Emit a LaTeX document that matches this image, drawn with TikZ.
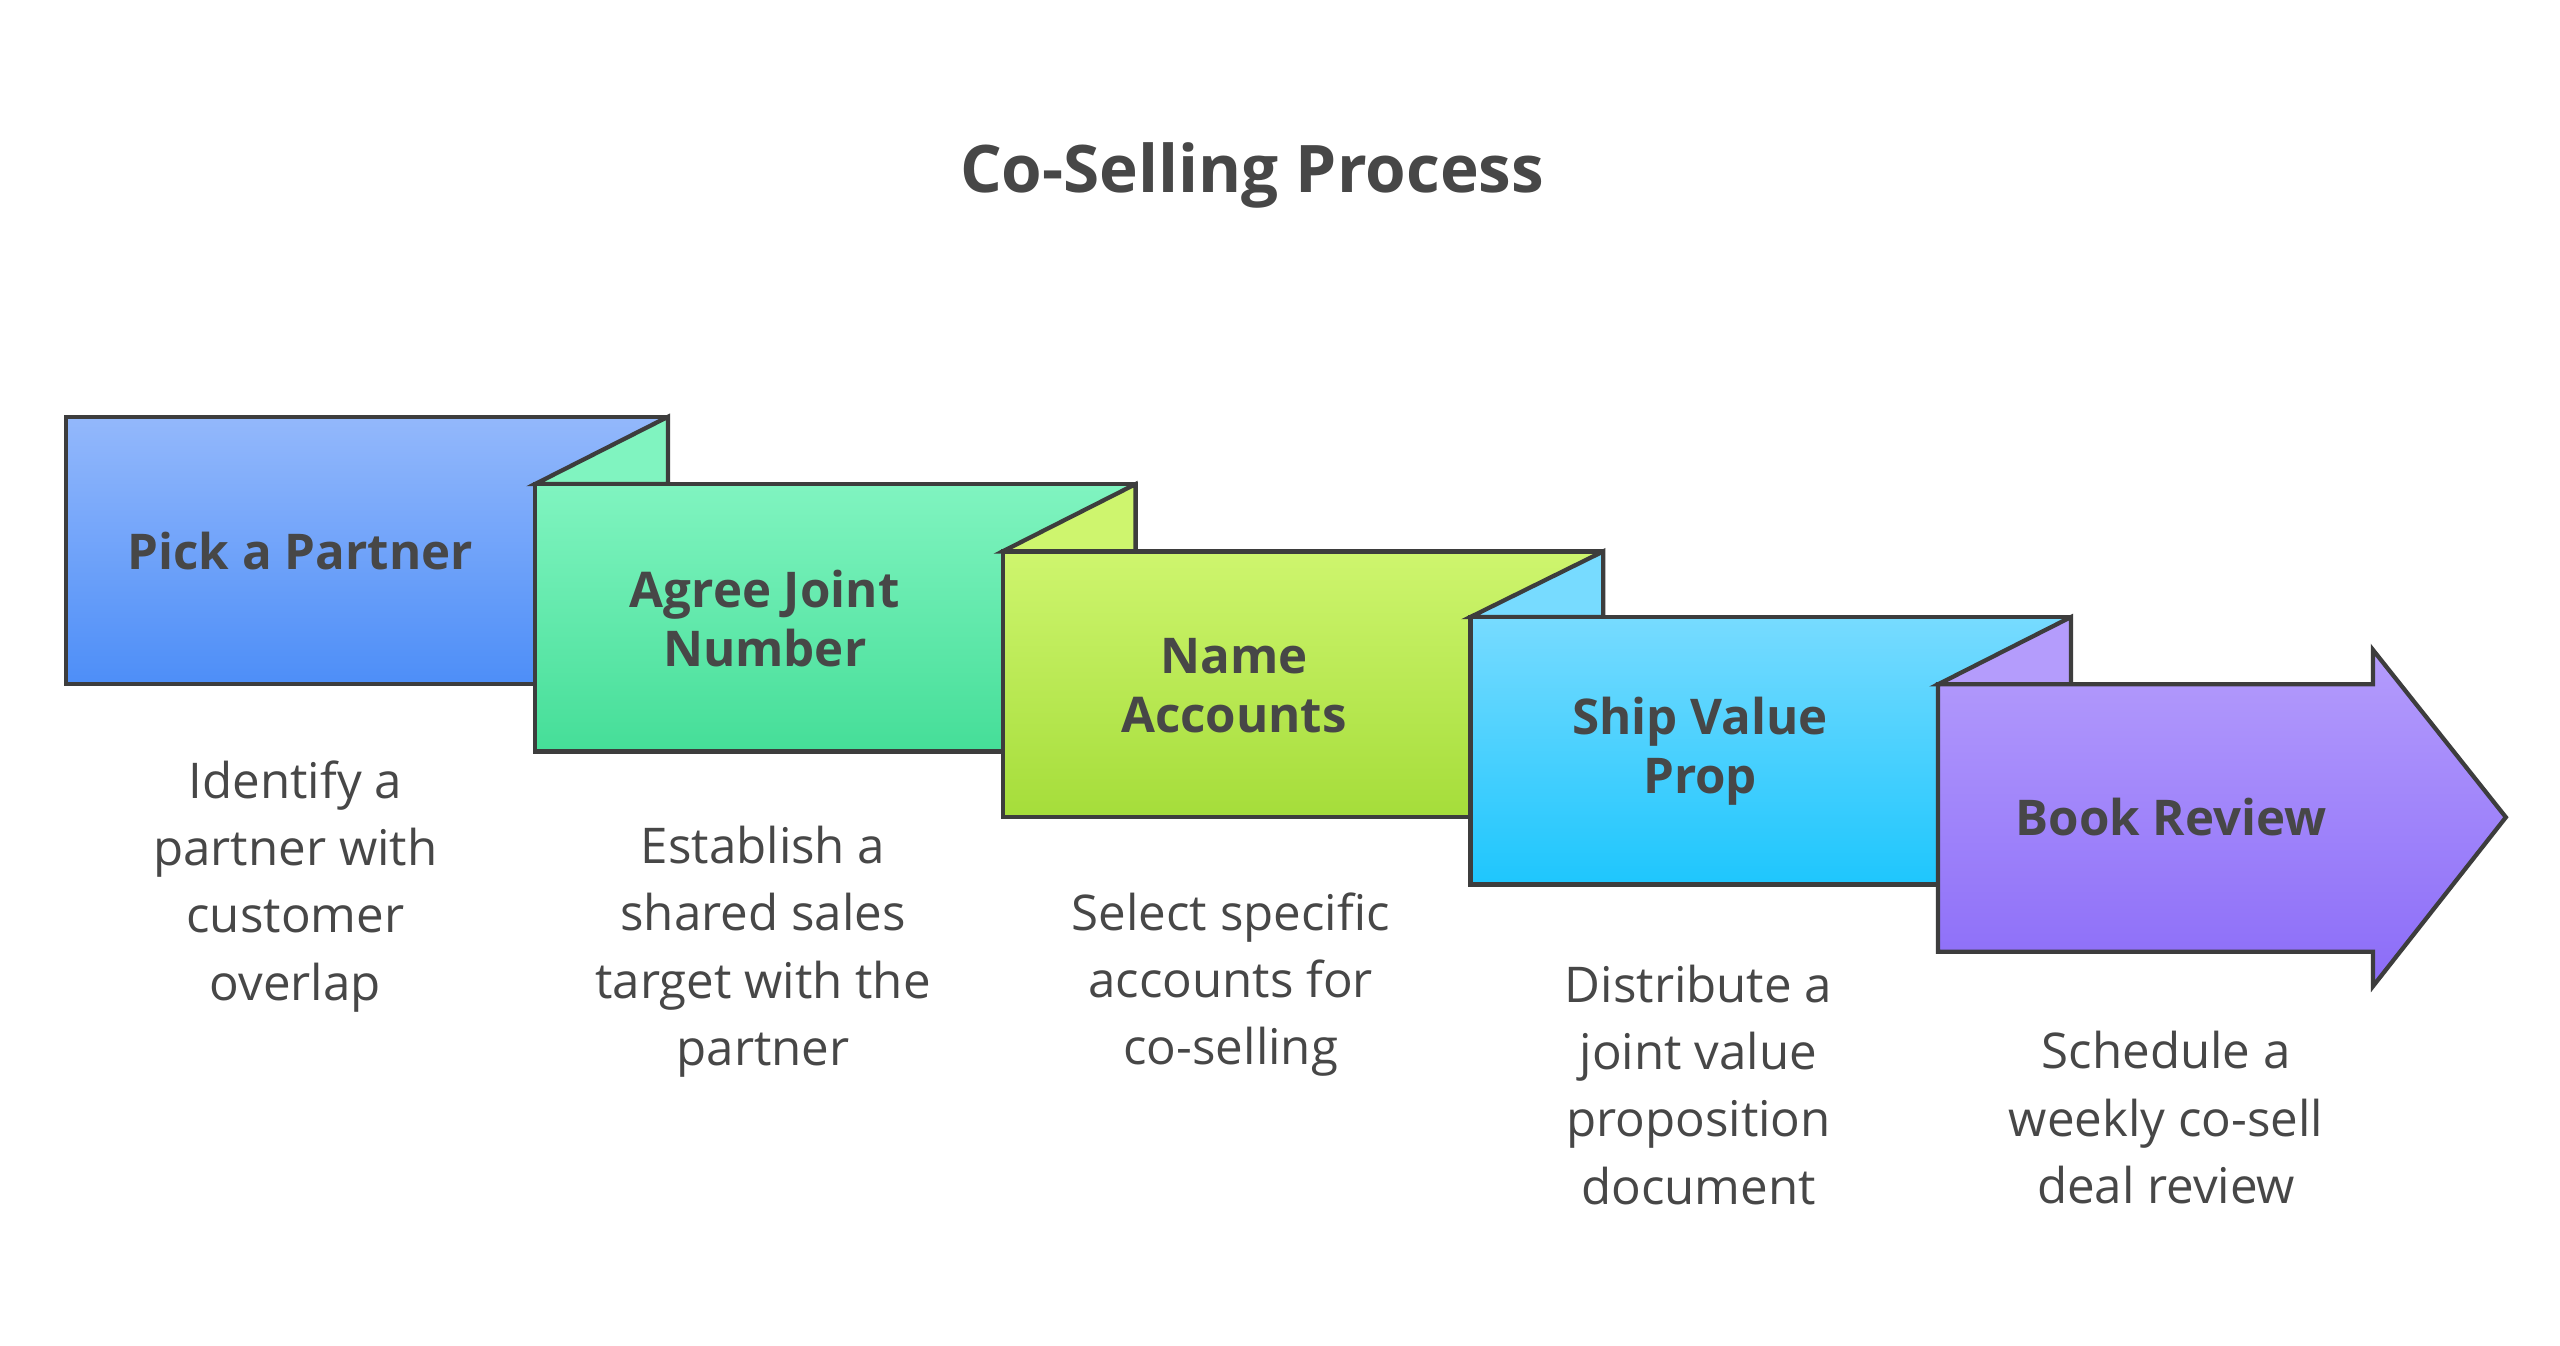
\documentclass[tikz,border=0pt]{standalone}
\usepackage{fontspec}
\setmainfont{Open Sans}
\begin{document}
\begin{tikzpicture}[x=1pt,y=-1pt,
  box/.style={draw=black!76,line width=2.6pt,line join=miter},
  lbl/.style={font=\fontsize{30}{36}\selectfont\bfseries,text=black!72,align=center},
  desc/.style={font=\fontsize{30}{41}\selectfont,text=black!72,align=center}]
\useasboundingbox[fill=white] (0,0) rectangle (1560,820);
\definecolor{aT}{HTML}{93B8FB}\definecolor{aB}{HTML}{4D8EF8}
\definecolor{bT}{HTML}{80F4C0}\definecolor{bB}{HTML}{45DE98}
\definecolor{cT}{HTML}{CEF56E}\definecolor{cB}{HTML}{A5DD3A}
\definecolor{dT}{HTML}{77DBFF}\definecolor{dB}{HTML}{1EC6FD}
\definecolor{eT}{HTML}{B49CFC}\definecolor{eB}{HTML}{8B6CF8}
\node[font=\fontsize{40}{48}\selectfont\bfseries,text=black!72] (title) at (763,107) {Co-Selling Process};
% box 1
\path[box,top color=aT,bottom color=aB] (40,254) rectangle (407,417);
% box 2
\path[box,fill=bT] (326,295) -- (407,254) -- (407,295) -- cycle;
\path[box,top color=bT,bottom color=bB] (326,295) rectangle (692,458);
% box 3
\path[box,fill=cT] (611,336) -- (692,295) -- (692,336) -- cycle;
\path[box,top color=cT,bottom color=cB] (611,336) rectangle (977,498);
% box 4
\path[box,fill=dT] (896,376) -- (977,336) -- (977,376) -- cycle;
\path[box,top color=dT,bottom color=dB] (896,376) rectangle (1262,539);
% box 5
\path[box,fill=eT] (1181,417) -- (1262,376) -- (1262,417) -- cycle;
\path[box,top color=eT,bottom color=eB] (1181,417) -- (1446,417) -- (1446,396) -- (1527,498) -- (1446,601) -- (1446,580) -- (1181,580) -- cycle;
\node[lbl] (l1) at (183,336) {Pick a Partner};
\node[lbl] (l2) at (466,377) {Agree Joint\\Number};
\node[lbl] (l3) at (752,418) {Name\\Accounts};
\node[lbl] (l4) at (1036,458) {Ship Value\\Prop};
\node[lbl] (l5) at (1323,498) {Book Review};
\node[desc] (d1) at (180,540) {Identify a\\partner with\\customer\\overlap};
\node[desc] (d2) at (465,580) {Establish a\\shared sales\\target with the\\partner};
\node[desc] (d3) at (750,600) {Select specific\\accounts for\\co-selling};
\node[desc] (d4) at (1035,661) {Distribute a\\joint value\\proposition\\document};
\node[desc] (d5) at (1320,681) {Schedule a\\weekly co-sell\\deal review};
\end{tikzpicture}
\end{document}
